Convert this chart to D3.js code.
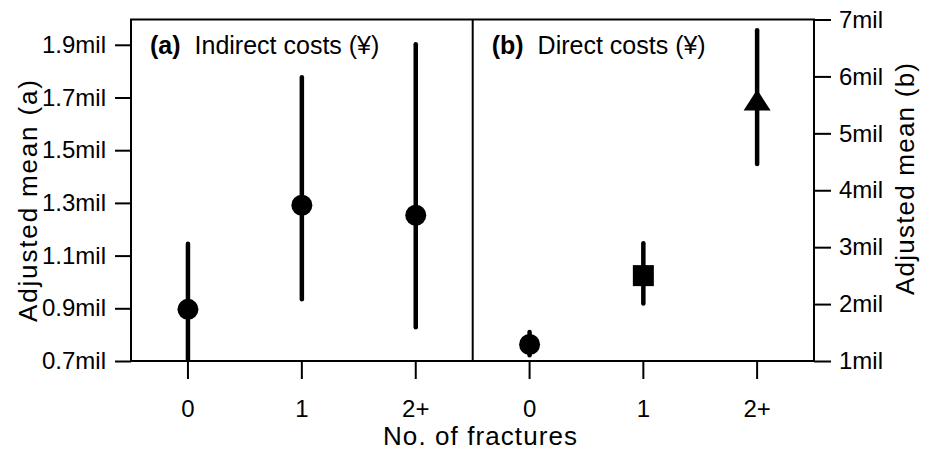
<!DOCTYPE html>
<html><head><meta charset="utf-8">
<script src="https://cdn.jsdelivr.net/npm/d3@7"></script>
<style>body{margin:0;background:#fff}svg{display:block}text{font-family:"Liberation Sans",Arial,sans-serif;fill:#000}</style>
</head><body><svg id="c" width="934" height="451"></svg>
<script>
const categories = ["0","1","2+"];
// Panel (a): indirect costs, millions of yen
const indirectMean = [0.896, 1.291, 1.253];
const indirectLow  = [0.66, 0.934, 0.828];
const indirectHigh = [1.145, 1.777, 1.902];
// Panel (b): direct costs, millions of yen
const directMean = [1.29, 2.50, 5.54];
const directLow  = [1.10, 2.01, 4.46];
const directHigh = [1.51, 3.07, 6.81];
const directShapes = ["circle","square","triangle"];
const leftTicks  = [0.7, 0.9, 1.1, 1.3, 1.5, 1.7, 1.9];
const rightTicks = [1, 2, 3, 4, 5, 6, 7];
const panelTitles = [["(a)","Indirect costs (¥)"],["(b)","Direct costs (¥)"]];

const svg = d3.select("#c");
const L = 131, M = 472.7, R = 814, T = 19.5, B = 361;
const yA = d3.scaleLinear().domain([0.7, 1.996]).range([B, T]);
const yB = d3.scaleLinear().domain([1, 7]).range([B, T]);
const xA = d3.scaleBand().domain(categories).range([L, M]);
const xB = d3.scaleBand().domain(categories).range([M, R]);

const defs = svg.append("defs");
defs.append("clipPath").attr("id","clipA").append("rect").attr("x",L).attr("y",T).attr("width",M-L).attr("height",B-T);
defs.append("clipPath").attr("id","clipB").append("rect").attr("x",M).attr("y",T).attr("width",R-M).attr("height",B-T);

// Axes
const fs = "24px";
const axL = svg.append("g").attr("transform",`translate(${L},0)`)
  .call(d3.axisLeft(yA).tickValues(leftTicks).tickSize(16).tickPadding(9).tickFormat(d=>d3.format(".1f")(d)+"mil"));
const axR = svg.append("g").attr("transform",`translate(${R},0)`)
  .call(d3.axisRight(yB).tickValues(rightTicks).tickSize(17).tickPadding(8).tickFormat(d=>d+"mil"));
const axBA = svg.append("g").attr("transform",`translate(0,${B})`)
  .call(d3.axisBottom(xA).tickSize(18).tickPadding(21));
const axBB = svg.append("g").attr("transform",`translate(0,${B})`)
  .call(d3.axisBottom(xB).tickSize(18).tickPadding(21));
[axL,axR,axBA,axBB].forEach(a=>{
  a.select(".domain").remove();
  a.selectAll(".tick line").attr("stroke","#000").attr("stroke-width",2);
  a.selectAll(".tick text").style("font-size",fs).attr("fill","#000");
});

// Frame
svg.append("rect").attr("x",L).attr("y",T).attr("width",R-L).attr("height",B-T)
  .attr("fill","none").attr("stroke","#000").attr("stroke-width",2);
svg.append("line").attr("x1",M).attr("x2",M).attr("y1",T).attr("y2",B).attr("stroke","#000").attr("stroke-width",2);

// Panel A marks
const gA = svg.append("g").attr("clip-path","url(#clipA)");
categories.forEach((c,i)=>{
  const cx = xA(c)+xA.bandwidth()/2;
  gA.append("line").attr("x1",cx).attr("x2",cx).attr("y1",yA(indirectLow[i])).attr("y2",yA(indirectHigh[i]))
    .attr("stroke","#000").attr("stroke-width",4.5).attr("stroke-linecap","round");
  gA.append("circle").attr("cx",cx).attr("cy",yA(indirectMean[i])).attr("r",10.5).attr("fill","#000");
});
// Panel B marks
const gB = svg.append("g").attr("clip-path","url(#clipB)");
categories.forEach((c,i)=>{
  const cx = xB(c)+xB.bandwidth()/2, cy = yB(directMean[i]);
  gB.append("line").attr("x1",cx).attr("x2",cx).attr("y1",yB(directLow[i])).attr("y2",yB(directHigh[i]))
    .attr("stroke","#000").attr("stroke-width",4.5).attr("stroke-linecap","round");
  const s = directShapes[i];
  if (s==="circle") gB.append("circle").attr("cx",cx).attr("cy",cy).attr("r",10.5).attr("fill","#000");
  else if (s==="square") gB.append("rect").attr("x",cx-10.5).attr("y",cy-10.5).attr("width",21).attr("height",21).attr("fill","#000");
  else gB.append("path").attr("d",`M${cx},${cy-13}L${cx+13.5},${cy+8}L${cx-13.5},${cy+8}Z`).attr("fill","#000");
});

// Panel titles
[[L, panelTitles[0]],[M, panelTitles[1]]].forEach(([x0,t])=>{
  const tx = svg.append("text").attr("x",x0+19).attr("y",54).style("font-size","25px");
  tx.append("tspan").attr("font-weight","bold").text(t[0]);
  tx.append("tspan").attr("dx",14).text(t[1]);
});

// Axis titles
svg.append("text").attr("transform","translate(37,201) rotate(-90)").attr("text-anchor","middle")
  .style("font-size","26px").attr("textLength",242).attr("lengthAdjust","spacing").text("Adjusted mean (a)");
svg.append("text").attr("transform","translate(914,179) rotate(-90)").attr("text-anchor","middle")
  .style("font-size","26px").attr("textLength",232).attr("lengthAdjust","spacing").text("Adjusted mean (b)");
svg.append("text").attr("x",480).attr("y",445).attr("text-anchor","middle")
  .style("font-size","26px").attr("textLength",194).attr("lengthAdjust","spacing").text("No. of fractures");
</script></body></html>
